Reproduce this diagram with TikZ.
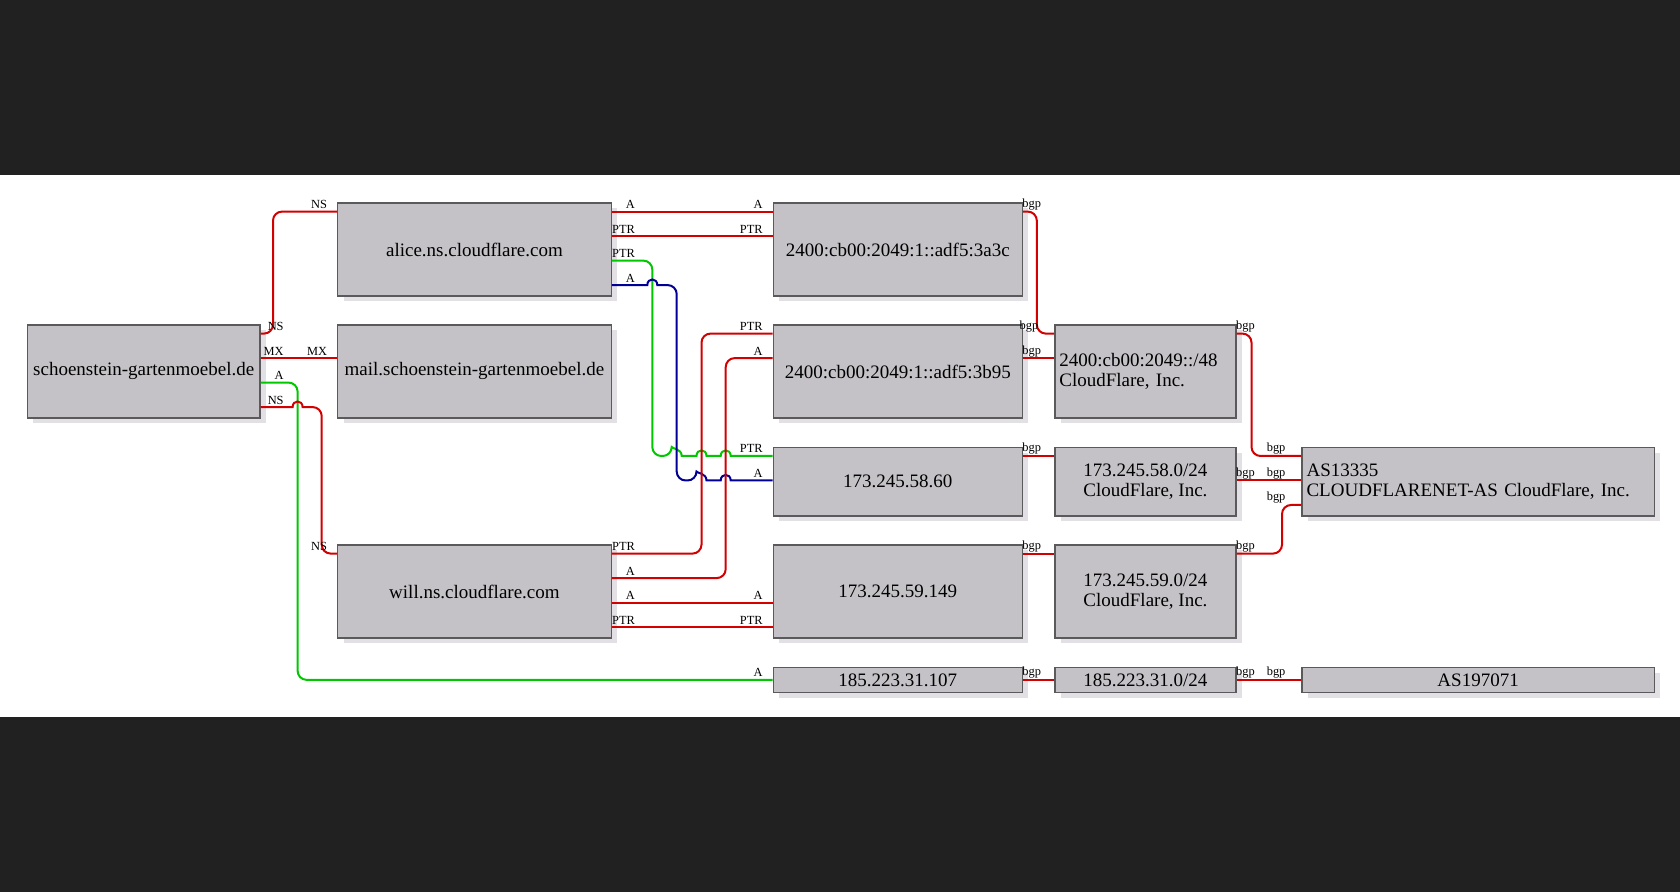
\documentclass[tikz,border=0pt]{standalone}
\usepackage{fontspec}
\setmainfont{Liberation Serif}
\usetikzlibrary{calc,shadows,positioning}
\definecolor{bgdark}{RGB}{33,33,33}
\definecolor{boxfill}{RGB}{196,194,198}
\definecolor{boxline}{RGB}{90,90,90}
\definecolor{boxshadow}{RGB}{226,224,229}
\definecolor{linkred}{RGB}{210,0,0}
\definecolor{linkgreen}{RGB}{0,200,0}
\definecolor{linkblue}{RGB}{0,0,150}

\begin{document}
\begin{tikzpicture}[x=0.5pt, y=-0.5pt,
	gbox/.style={draw=boxline, line width=0.65pt, fill=boxfill, inner sep=0pt, anchor=north west,
		minimum height=46.5pt, font=\fontsize{9.5}{9.7}\selectfont,
		drop shadow={shadow xshift=3pt, shadow yshift=-2.75pt, fill=boxshadow, opacity=1}},
	mid/.style={minimum height=34.3pt}, flat/.style={minimum height=12.5pt},
	lbox/.style={align=left, inner xsep=2.25pt},
	rd/.style={draw=linkred, line width=1pt, rounded corners=4.5pt},
	gr/.style={draw=linkgreen, line width=1pt, rounded corners=4.5pt},
	bl/.style={draw=linkblue, line width=1pt, rounded corners=4.5pt},
	tl/.style={inner sep=0pt, font=\fontsize{6.2}{7}\selectfont, anchor=base east, xshift=12pt, yshift=1.5pt},
	hl/.style={inner sep=0pt, font=\fontsize{6.2}{7}\selectfont, anchor=base east, xshift=-4.5pt, yshift=1.5pt},
	tb/.style={inner sep=0pt, font=\fontsize{6.2}{7}\selectfont, anchor=base east, xshift=9.5pt, yshift=2pt},
	hb/.style={inner sep=0pt, font=\fontsize{6.2}{7}\selectfont, anchor=base east, xshift=-7.5pt, yshift=2pt}]
	\useasboundingbox (0,0) rectangle (1680,892);
	\fill[bgdark] (0,0) rectangle (1680,892);
	\fill[white] (0,175) rectangle (1680,717);
	% hosts
	\node[gbox, minimum width=116.25pt] (dom) at (26.8,324.3) {schoenstein-gartenmoebel.de};
	\node[gbox, minimum width=136.8pt] (alice) at (337,202.3) {alice.ns.cloudflare.com};
	\node[gbox, minimum width=136.8pt] (mail) at (337,324.3) {mail.schoenstein-gartenmoebel.de};
	\node[gbox, minimum width=136.8pt] (will) at (337,544.3) {will.ns.cloudflare.com};
	% addresses
	\node[gbox, minimum width=124.55pt] (v6a) at (772.6,202.3) {2400:cb00:2049:1::adf5:3a3c};
	\node[gbox, minimum width=124.55pt] (v6b) at (772.6,324.3) {2400:cb00:2049:1::adf5:3b95};
	\node[gbox, mid, minimum width=124.55pt] (v4a) at (772.6,446.7) {173.245.58.60};
	\node[gbox, minimum width=124.55pt] (v4b) at (772.6,544.3) {173.245.59.149};
	\node[gbox, flat, minimum width=124.55pt] (v4c) at (772.6,666.7) {185.223.31.107};
	% networks
	\node[gbox, lbox, text width=86.1pt, minimum width=90.6pt] (net6) at (1054.2,324.3) {2400:cb00:2049::/48\\CloudFlare, Inc.};
	\node[gbox, mid, align=left, minimum width=90.6pt] (net58) at (1054.2,446.7) {173.245.58.0/24\\CloudFlare, Inc.};
	\node[gbox, align=left, minimum width=90.6pt] (net59) at (1054.2,544.3) {173.245.59.0/24\\CloudFlare, Inc.};
	\node[gbox, flat, minimum width=90.6pt] (net185) at (1054.2,666.7) {185.223.31.0/24};
	\node[gbox, mid, lbox, text width=171.55pt, minimum width=176.05pt] (as1) at (1301.4,446.7) {AS13335\\CLOUDFLARENET-AS CloudFlare, Inc.};
	\node[gbox, flat, minimum width=176.05pt] (as2) at (1301.4,666.7) {AS197071};
	% dns links
	\draw[rd] ($(dom.north east)+(0,9.3)$) node[tl] (t1) {NS} -- (273,333.6) -- (273,211.6) -- ($(alice.north west)+(0,9.3)$) node[hl] (h1) {NS};
	\draw[rd] ($(dom.north east)+(0,33.8)$) node[tl] (t2) {MX} -- ($(mail.north west)+(0,33.8)$) node[hl] (h2) {MX};
	\draw[gr] ($(dom.north east)+(0,58.3)$) node[tl] (t3) {A} -- (297.6,382.6) |- (v4c.west) node[hl] (h3) {A};
	\draw[rd] ($(dom.north east)+(0,82.8)$) node[tl] (t4) {NS} [sharp corners] -- (292.6,407.1) .. controls (292.6,399.6) and (302.6,399.6) .. (302.6,407.1)
		[rounded corners=4.5pt] -- (321.7,407.1) -- (321.7,553.6) -- ($(will.north west)+(0,9.3)$) node[hl] (h4) {NS};
	\draw[rd] ($(alice.north east)+(0,9.3)$) node[tl] (t5) {A} -- ($(v6a.north west)+(0,9.3)$) node[hl] (h5) {A};
	\draw[rd] ($(alice.north east)+(0,33.8)$) node[tl] (t6) {PTR} -- ($(v6a.north west)+(0,33.8)$) node[hl] (h6) {PTR};
	\draw[gr] ($(alice.north east)+(0,58.3)$) node[tl] (t7) {PTR} -- (652.3,260.6) -- (652.3,456) -- (671.7,456)
		[sharp corners] .. controls (671.7,448.5) and (681.7,448.5) .. (681.7,456) -- (696.5,456)
		.. controls (696.5,448.5) and (706.5,448.5) .. (706.5,456) -- (720.7,456)
		.. controls (720.7,448.5) and (730.7,448.5) .. (730.7,456) -- ($(v4a.north west)+(0,9.3)$) node[hl] (h7) {PTR};
	\draw[bl] ($(alice.north east)+(0,82.8)$) node[tl] (t8) {A} [sharp corners] -- (647.3,285.1) .. controls (647.3,277.6) and (657.3,277.6) .. (657.3,285.1)
		[rounded corners=4.5pt] -- (676.7,285.1) -- (676.7,480.5) -- (696.5,480.5)
		[sharp corners] .. controls (696.5,473) and (706.5,473) .. (706.5,480.5) -- (720.7,480.5)
		.. controls (720.7,473) and (730.7,473) .. (730.7,480.5) -- ($(v4a.north west)+(0,33.8)$) node[hl] (h8) {A};
	\draw[rd] ($(will.north east)+(0,9.3)$) node[tl] (t9) {PTR} -- (701.5,553.6) -- (701.5,333.6) -- ($(v6b.north west)+(0,9.3)$) node[hl] (h9) {PTR};
	\draw[rd] ($(will.north east)+(0,33.8)$) node[tl] (t10) {A} -- (725.7,578.1) -- (725.7,358.1) -- ($(v6b.north west)+(0,33.8)$) node[hl] (h10) {A};
	\draw[rd] ($(will.north east)+(0,58.3)$) node[tl] (t11) {A} -- ($(v4b.north west)+(0,58.3)$) node[hl] (h11) {A};
	\draw[rd] ($(will.north east)+(0,82.8)$) node[tl] (t12) {PTR} -- ($(v4b.north west)+(0,82.8)$) node[hl] (h12) {PTR};
	% bgp links
	\draw[rd] ($(v6a.north east)+(0,9.3)$) node[tb] (t13) {bgp} -- (1036.8,211.6) -- (1036.8,333.6) -- ($(net6.north west)+(0,9.3)$) node[hb] (h13) {bgp};
	\draw[rd] ($(v6b.north east)+(0,33.8)$) node[tb] (t14) {bgp} -- ($(net6.north west)+(0,33.8)$);
	\draw[rd] ($(v4a.north east)+(0,9.3)$) node[tb] (t15) {bgp} -- ($(net58.north west)+(0,9.3)$);
	\draw[rd] ($(v4b.north east)+(0,9.3)$) node[tb] (t16) {bgp} -- ($(net59.north west)+(0,9.3)$);
	\draw[rd] (v4c.east) node[tb] (t17) {bgp} -- (net185.west);
	\draw[rd] ($(net6.north east)+(0,9.3)$) node[tb] (t18) {bgp} -- (1251.5,333.6) -- (1251.5,456) -- ($(as1.north west)+(0,9.3)$) node[hb] (h18) {bgp};
	\draw[rd] ($(net58.north east)+(0,33.8)$) node[tb] (t19) {bgp} -- ($(as1.north west)+(0,33.8)$) node[hb] (h19) {bgp};
	\draw[rd] ($(net59.north east)+(0,9.3)$) node[tb] (t20) {bgp} -- (1282,553.6) -- (1282,505) -- ($(as1.north west)+(0,58.3)$) node[hb] (h20) {bgp};
	\draw[rd] (net185.east) node[tb] (t21) {bgp} -- (as2.west) node[hb] (h21) {bgp};
\end{tikzpicture}
\end{document}
